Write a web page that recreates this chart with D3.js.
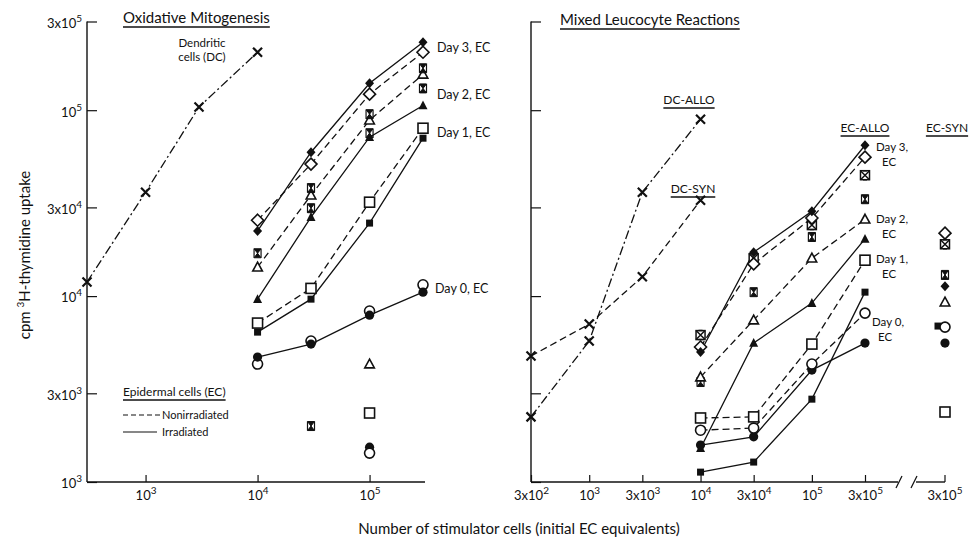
<!DOCTYPE html>
<html>
<head>
<meta charset="utf-8">
<script src="https://cdn.jsdelivr.net/npm/d3@7"></script>
<style>
  body { margin: 0; background: #fff; }
  svg text { font-family: Lato, "Open Sans", "DejaVu Sans", sans-serif; fill: #111; }
</style>
</head>
<body>
<div id="chart"></div>
<script>
// Stimulator doses
const DC_DOSE = [300, 1000, 3000, 10000];
const EC_DOSE = [1e4, 3e4, 1e5, 3e5];

// Oxidative mitogenesis (cpm)
const om_dc = [11900, 36200, 104000, 205000];
const om_d3_irr = [22400, 59400, 139700, 232000];
const om_d3_non = [25600, 51300, 122000, 205000];
const om_d2_hg = [17000, 38100, 95200, 168000];
const om_d2_non = [14300, 34900, 88400, 156000];
const om_hg2 = [null, 29700, 75200, 131000];
const om_d2_irr = [9630, 26600, 71600, 106000];
const om_d1_non = [7160, 11000, 32000, 80000];
const om_d1_irr = [6400, 9630, 24700, 70700];
const om_d0_non = [4310, 5730, 8310, 11500];
const om_d0_irr = [4700, 5520, 7900, 10500];
// unconnected points
const om_pt_dose = [1e5, 1e5, 1e5, 1e5, 3e4];
const om_pt_val = [4310, 2350, 1540, 1430, 2000];
const om_pt_sym = ['triOpen', 'squareOpen', 'circleFilled', 'circleOpen', 'hourglass'];

// Mixed leucocyte reactions (cpm)
const mlr_dc_allo = [2240, 5730, 36200, 89400];
const mlr_dc_syn = [4760, 7070, 12700, 32800];
const mlr_d3_irr = [5000, 17200, 28600, 64800];
const mlr_d3_non = [5320, 14900, 26300, 55900];
const mlr_cross = [6170, 16000, 24100, 44700];
const mlr_hg = [3450, 10500, 20800, 33200];
const mlr_d2_non = [3670, 7430, 16000, 25900];
const mlr_d2_irr = [1520, 5590, 9170, 20300];
const mlr_d1_non = [2210, 2240, 5520, 15600];
const mlr_d1_irr = [1130, 1280, 2790, 10500];
const mlr_d0_non = [1900, 1950, 4310, 8100];
const mlr_d0_irr = [1580, 1750, 4000, 5590];
// EC-SYN, all at 3x10^5
const syn_sym = ['diamondOpen', 'crossSquare', 'hourglass', 'diamondFilled', 'triOpen', 'squareFilled', 'circleOpen', 'circleFilled', 'squareOpen'];
const syn_val = [21800, 19000, 13000, 11300, 9280, 6900, 6810, 5590, 2380];

// Axis ticks
const Y_TICKS = [1e3, 3e3, 1e4, 3e4, 1e5, 3e5];
const XL_TICKS = [1e3, 1e4, 1e5];
const XR_TICKS = [300, 1e3, 3e3, 1e4, 3e4, 1e5, 3e5];

const INK = '#111';
const W = 972, H = 544;
const DASH = '7,4', DASHDOT = '9,3,2,3';

const svg = d3.select('#chart').append('svg').attr('width', W).attr('height', H);

const y = d3.scaleLog().domain([1e3, 3e5]).range([482, 21.5]);
const xL = d3.scaleLog().domain([300, 3e5]).range([87, 423]);
const xR = d3.scaleLog().domain([300, 3e5]).range([531, 865]);
const X_SYN = 945;

function supLabel(sel, v) {
  const e = Math.floor(Math.log10(v) + 1e-9);
  const m = Math.round(v / Math.pow(10, e));
  sel.text(null);
  sel.append('tspan').text(m === 1 ? '10' : m + 'x10');
  sel.append('tspan').attr('dy', -6).attr('font-size', 10).text(e);
}

function styleAxis(g) {
  g.select('.domain').remove();
  g.selectAll('.tick line').attr('stroke', INK).attr('stroke-width', 1.2);
  g.selectAll('.tick text').attr('font-size', 13).attr('fill', INK)
    .each(function(d) { supLabel(d3.select(this), d); });
}

// ----- left panel axes
const gyL = svg.append('g').attr('transform', 'translate(87,0)')
  .call(d3.axisLeft(y).tickValues(Y_TICKS).tickSize(-10).tickPadding(5));
styleAxis(gyL);
gyL.selectAll('.tick text').attr('dy', '0.45em');
svg.append('line').attr('x1', 87).attr('x2', 87).attr('y1', 21.5).attr('y2', 482).attr('stroke', INK).attr('stroke-width', 1.4);

const gxL = svg.append('g').attr('transform', 'translate(0,482)')
  .call(d3.axisBottom(xL).tickValues(XL_TICKS).tickSize(-7).tickPadding(9));
styleAxis(gxL);
svg.append('line').attr('x1', 87).attr('x2', 425).attr('y1', 482).attr('y2', 482).attr('stroke', INK).attr('stroke-width', 1.4);

// ----- right panel axes
const gyR = svg.append('g').attr('transform', 'translate(531,0)')
  .call(d3.axisLeft(y).tickValues(Y_TICKS).tickSize(-10).tickFormat(''));
gyR.select('.domain').remove();
gyR.selectAll('.tick line').attr('stroke', INK).attr('stroke-width', 1.2);
svg.append('line').attr('x1', 531).attr('x2', 531).attr('y1', 21.5).attr('y2', 482).attr('stroke', INK).attr('stroke-width', 1.4);

const gxR = svg.append('g').attr('transform', 'translate(0,482)')
  .call(d3.axisBottom(xR).tickValues(XR_TICKS).tickSize(-7).tickPadding(9));
styleAxis(gxR);
svg.append('line').attr('x1', 531).attr('x2', 898).attr('y1', 482).attr('y2', 482).attr('stroke', INK).attr('stroke-width', 1.4);
svg.append('line').attr('x1', 916).attr('x2', X_SYN).attr('y1', 482).attr('y2', 482).attr('stroke', INK).attr('stroke-width', 1.4);
// axis break
[[896, 902], [911, 917]].forEach(([a, b]) => {
  svg.append('line').attr('x1', a).attr('y1', 488).attr('x2', b).attr('y2', 476).attr('stroke', INK).attr('stroke-width', 1.2);
});
svg.append('line').attr('x1', X_SYN).attr('x2', X_SYN).attr('y1', 482).attr('y2', 475).attr('stroke', INK).attr('stroke-width', 1.2);
svg.append('text').attr('x', X_SYN).attr('y', 500).attr('text-anchor', 'middle').attr('font-size', 13)
  .call(s => supLabel(s, 3e5));

// ----- markers
function marker(g, sym, cx, cy) {
  const k = g.append('g').attr('transform', `translate(${cx},${cy})`);
  switch (sym) {
    case 'diamondOpen':
      k.append('path').attr('d', 'M0,-6L6,0L0,6L-6,0Z').attr('fill', '#fff').attr('stroke', INK).attr('stroke-width', 1.6); break;
    case 'diamondFilled':
      k.append('path').attr('d', 'M0,-5L4.5,0L0,5L-4.5,0Z').attr('fill', INK); break;
    case 'triOpen':
      k.append('path').attr('d', 'M0,-5L4.8,3.8L-4.8,3.8Z').attr('fill', '#fff').attr('stroke', INK).attr('stroke-width', 1.6); break;
    case 'triFilled':
      k.append('path').attr('d', 'M0,-5L4.5,3.8L-4.5,3.8Z').attr('fill', INK); break;
    case 'squareOpen':
      k.append('rect').attr('x', -5).attr('y', -5).attr('width', 10).attr('height', 10).attr('fill', '#fff').attr('stroke', INK).attr('stroke-width', 1.6); break;
    case 'squareFilled':
      k.append('rect').attr('x', -3.5).attr('y', -3.5).attr('width', 7).attr('height', 7).attr('fill', INK); break;
    case 'circleOpen':
      k.append('circle').attr('r', 5).attr('fill', '#fff').attr('stroke', INK).attr('stroke-width', 1.6); break;
    case 'circleFilled':
      k.append('circle').attr('r', 4.6).attr('fill', INK); break;
    case 'hourglass':
      k.append('path').attr('d', 'M-3.5,-4.5H3.5L-3.5,4.5H3.5Z').attr('fill', INK).attr('stroke', INK).attr('stroke-width', 1);
      k.append('path').attr('d', 'M-3.5,-4.5V4.5M3.5,-4.5V4.5').attr('stroke', INK).attr('stroke-width', 1.2); break;
    case 'crossSquare':
      k.append('rect').attr('x', -4.5).attr('y', -4.5).attr('width', 9).attr('height', 9).attr('fill', '#fff').attr('stroke', INK).attr('stroke-width', 1.5);
      k.append('path').attr('d', 'M-4.5,-4.5L4.5,4.5M-4.5,4.5L4.5,-4.5M-2,-4.5H2M-2,4.5H2').attr('stroke', INK).attr('stroke-width', 1.5); break;
    case 'x':
      k.append('path').attr('d', 'M-4.5,-4.5L4.5,4.5M-4.5,4.5L4.5,-4.5').attr('stroke', INK).attr('stroke-width', 2.2); break;
  }
}

function series(g, xs, vals, x, sym, dash) {
  const pts = vals.map((v, i) => [xs[i], v]).filter(p => p[1] != null);
  if (dash !== null) {
    g.append('path')
      .attr('d', d3.line().x(p => x(p[0])).y(p => y(p[1]))(pts))
      .attr('fill', 'none').attr('stroke', INK).attr('stroke-width', 1.3)
      .attr('stroke-dasharray', dash);
  }
  return pts;
}

function panel(x, defs) {
  const lines = svg.append('g'), marks = svg.append('g');
  defs.forEach(d => {
    const pts = series(lines, d.xs, d.vals, x, d.sym, d.dash);
    pts.forEach(p => marker(marks, d.sym, x(p[0]), y(p[1])));
  });
}

// solid = irradiated, dashed = nonirradiated
panel(xL, [
  { xs: DC_DOSE, vals: om_dc, sym: 'x', dash: DASHDOT },
  { xs: EC_DOSE, vals: om_d0_non, sym: 'circleOpen', dash: null },
  { xs: EC_DOSE, vals: om_d0_irr, sym: 'circleFilled', dash: '' },
  { xs: EC_DOSE, vals: om_d1_non, sym: 'squareOpen', dash: DASH },
  { xs: EC_DOSE, vals: om_d1_irr, sym: 'squareFilled', dash: '' },
  { xs: EC_DOSE, vals: om_d2_irr, sym: 'triFilled', dash: '' },
  { xs: EC_DOSE, vals: om_hg2, sym: 'hourglass', dash: null },
  { xs: EC_DOSE, vals: om_d2_non, sym: 'triOpen', dash: DASH },
  { xs: EC_DOSE, vals: om_d2_hg, sym: 'hourglass', dash: null },
  { xs: EC_DOSE, vals: om_d3_non, sym: 'diamondOpen', dash: DASH },
  { xs: EC_DOSE, vals: om_d3_irr, sym: 'diamondFilled', dash: '' }
]);
const omPts = svg.append('g');
om_pt_val.forEach((v, i) => marker(omPts, om_pt_sym[i], xL(om_pt_dose[i]), y(v)));

panel(xR, [
  { xs: DC_DOSE, vals: mlr_dc_allo, sym: 'x', dash: DASHDOT },
  { xs: DC_DOSE, vals: mlr_dc_syn, sym: 'x', dash: DASH },
  { xs: EC_DOSE, vals: mlr_d1_irr, sym: 'squareFilled', dash: '' },
  { xs: EC_DOSE, vals: mlr_d2_irr, sym: 'triFilled', dash: '' },
  { xs: EC_DOSE, vals: mlr_d0_irr, sym: 'circleFilled', dash: '' },
  { xs: EC_DOSE, vals: mlr_d0_non, sym: 'circleOpen', dash: DASH },
  { xs: EC_DOSE, vals: mlr_d1_non, sym: 'squareOpen', dash: DASH },
  { xs: EC_DOSE, vals: mlr_hg, sym: 'hourglass', dash: null },
  { xs: EC_DOSE, vals: mlr_d2_non, sym: 'triOpen', dash: DASH },
  { xs: EC_DOSE, vals: mlr_cross, sym: 'crossSquare', dash: null },
  { xs: EC_DOSE, vals: mlr_d3_non, sym: 'diamondOpen', dash: DASH },
  { xs: EC_DOSE, vals: mlr_d3_irr, sym: 'diamondFilled', dash: '' }
]);
const synPts = svg.append('g');
syn_val.forEach((v, i) => marker(synPts, syn_sym[i], X_SYN - (syn_sym[i] === 'squareFilled' ? 7 : 0), y(v)));

// ----- text
function label(x, yy, txt, size, anchor, underline) {
  const t = svg.append('text').attr('x', x).attr('y', yy).attr('font-size', size)
    .attr('text-anchor', anchor || 'start').text(txt);
  if (underline) {
    const w = t.node().getComputedTextLength();
    const x0 = anchor === 'middle' ? x - w / 2 : x;
    svg.append('line').attr('x1', x0).attr('x2', x0 + w).attr('y1', yy + 4).attr('y2', yy + 4)
      .attr('stroke', INK).attr('stroke-width', 1.3);
  }
  return t;
}

label(123, 23, 'Oxidative Mitogenesis', 15, 'start', true);
label(560, 25, 'Mixed Leucocyte Reactions', 15, 'start', true);

label(202, 47, 'Dendritic', 11.5, 'middle');
label(202, 61, 'cells (DC)', 11.5, 'middle');
label(437, 52, 'Day 3, EC', 12.5);
label(437, 99, 'Day 2, EC', 12.5);
label(437, 137, 'Day 1, EC', 12.5);
label(435, 293, 'Day 0, EC', 12.5);

label(123, 396, 'Epidermal cells (EC)', 12, 'start', true);
svg.append('line').attr('x1', 123).attr('x2', 160).attr('y1', 415).attr('y2', 415)
  .attr('stroke', INK).attr('stroke-width', 1.2).attr('stroke-dasharray', '5,3');
svg.append('line').attr('x1', 123).attr('x2', 157).attr('y1', 432).attr('y2', 432)
  .attr('stroke', INK).attr('stroke-width', 1.2);
label(162, 419, 'Nonirradiated', 11);
label(162, 436, 'Irradiated', 11);

label(689, 104, 'DC-ALLO', 12, 'middle', true);
label(693, 193, 'DC-SYN', 12, 'middle', true);
label(865, 132, 'EC-ALLO', 12, 'middle', true);
label(947, 132, 'EC-SYN', 12, 'middle', true);

label(876, 151, 'Day 3,', 11.5);
label(882, 166, 'EC', 11.5);
label(876, 223, 'Day 2,', 11.5);
label(882, 238, 'EC', 11.5);
label(876, 263, 'Day 1,', 11.5);
label(882, 278, 'EC', 11.5);
label(872, 326, 'Day 0,', 11.5);
label(878, 341, 'EC', 11.5);

// axis titles
const yt = svg.append('text').attr('transform', 'translate(30,255) rotate(-90)')
  .attr('text-anchor', 'middle').attr('font-size', 15);
yt.append('tspan').text('cpm ');
yt.append('tspan').attr('dy', -6).attr('font-size', 10).text('3');
yt.append('tspan').attr('dy', 6).text('H-thymidine uptake');

label(519, 534, 'Number of stimulator cells (initial EC equivalents)', 15, 'middle');
</script>
</body>
</html>
